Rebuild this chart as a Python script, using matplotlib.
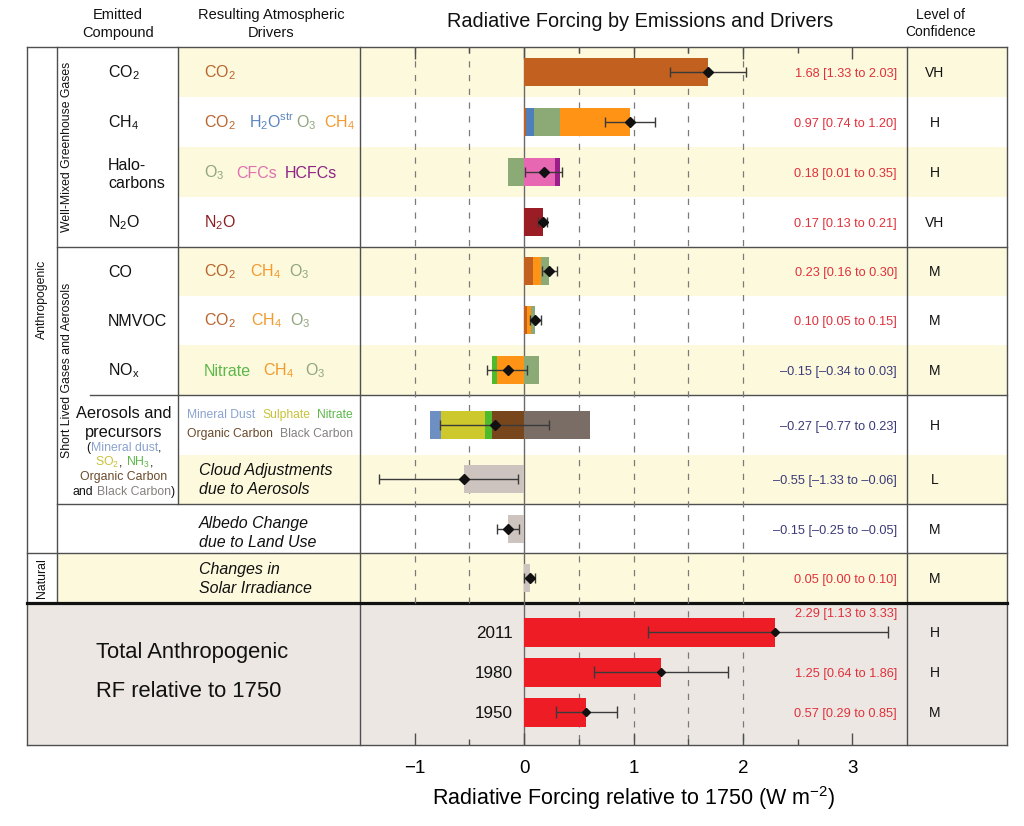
import matplotlib.pyplot as plt
import numpy as np

plt.rcParams['font.family'] = ['Liberation Sans', 'DejaVu Sans']
plt.rcParams['mathtext.fontset'] = 'custom'
plt.rcParams['mathtext.rm'] = 'Liberation Sans'
plt.rcParams['mathtext.it'] = 'Liberation Sans:italic'
plt.rcParams['mathtext.bf'] = 'Liberation Sans:bold'

# ---- values (W m-2) ----
row_names = ['CO2', 'CH4', 'Halocarbons', 'N2O', 'CO', 'NMVOC', 'NOx',
             'Aerosols', 'Cloud', 'Albedo', 'Solar']
best = [1.68, 0.97, 0.18, 0.17, 0.23, 0.10, -0.15, -0.27, -0.55, -0.15, 0.05]
low = [1.33, 0.74, 0.01, 0.13, 0.16, 0.05, -0.34, -0.77, -1.33, -0.25, 0.00]
high = [2.03, 1.20, 0.35, 0.21, 0.30, 0.15, 0.03, 0.23, -0.06, -0.05, 0.10]
confidence = ['VH', 'H', 'H', 'VH', 'M', 'M', 'M', 'H', 'L', 'M', 'M']

# stacked contributions of each resulting driver
co2_parts = [('CO2', 1.68)]
ch4_parts = [('CO2', 0.02), ('H2Ostr', 0.07), ('O3', 0.24), ('CH4', 0.64)]
halo_parts = [('O3', -0.15), ('CFCs', 0.28), ('HCFCs', 0.05)]
n2o_parts = [('N2O', 0.17)]
co_parts = [('CO2', 0.08), ('CH4', 0.07), ('O3', 0.08)]
nmvoc_parts = [('CO2', 0.03), ('CH4', 0.03), ('O3', 0.04)]
nox_parts = [('CH4', -0.25), ('Nitrate', -0.04), ('O3', 0.14)]
aerosol_parts = [('OC', -0.29), ('Nitrate', -0.07), ('Sulphate', -0.40),
                 ('Dust', -0.10), ('BC', 0.60)]
cloud_parts = [('Adjust', -0.55)]
albedo_parts = [('Adjust', -0.15)]
solar_parts = [('Adjust', 0.05)]
all_parts = [co2_parts, ch4_parts, halo_parts, n2o_parts, co_parts, nmvoc_parts,
             nox_parts, aerosol_parts, cloud_parts, albedo_parts, solar_parts]

years = ['2011', '1980', '1950']
total_best = [2.29, 1.25, 0.57]
total_low = [1.13, 0.64, 0.29]
total_high = [3.33, 1.86, 0.85]
total_conf = ['H', 'H', 'M']

bar_colors = {'CO2': '#C1601F', 'H2Ostr': '#4F7FBA', 'O3': '#8CAA76', 'CH4': '#FF9315',
              'CFCs': '#E767B3', 'HCFCs': '#9A1D8C', 'N2O': '#9A1C24',
              'Nitrate': '#4EBB2F', 'Dust': '#6E8FC2', 'Sulphate': '#CDC82C',
              'OC': '#77461D', 'BC': '#7A6D66', 'Adjust': '#CDC3BF'}
text_colors = {'CO2': '#B9652E', 'H2Ostr': '#5A85BC', 'O3': '#8FA67E', 'CH4': '#F29A2E',
               'CFCs': '#E070B0', 'HCFCs': '#8E2486', 'N2O': '#8A1E22',
               'Nitrate': '#5DB84A', 'Dust': '#8AA3CF', 'Sulphate': '#C9C23A',
               'OC': '#6A4A2A', 'BC': '#858080', 'k': '#111111'}

# ---- layout (pixel coordinates of the 1024x826 figure) ----
row_y = [72, 122, 172, 222, 271, 320, 370, 425, 479, 529, 578]
total_y = [632, 672, 712]
line_c = '#4f4f4f'

fig = plt.figure(figsize=(10.24, 8.26), dpi=100)
bg = fig.add_axes([0, 0, 1, 1], zorder=0)
bg.set_xlim(0, 1024)
bg.set_ylim(826, 0)
bg.axis('off')
renderer = fig.canvas.get_renderer()


def put(x, yc, s, size, color='#111111', ha='left', **kw):
    # place text so that its cap height is centred on yc
    return bg.text(x, yc + 0.5 * size, s, fontsize=size, color=color, ha=ha,
                   va='baseline', **kw)


def put_parts(x, yc, parts, size, center=False, **kw):
    texts, gaps = [], []
    for s, key in parts:
        n = len(s) - len(s.lstrip(' '))
        gaps.append(n * 0.28 * size * 100 / 72)
        texts.append(put(0, yc, s.lstrip(' '), size, color=text_colors[key], **kw))
    widths = [t.get_window_extent(renderer).width for t in texts]
    total = sum(widths) + sum(gaps)
    cur = x - total / 2 if center else x
    for t, w, g in zip(texts, widths, gaps):
        cur += g
        t.set_x(cur)
        cur += w


# backgrounds
for top, bot, x0 in [(47, 97, 178), (147, 197, 178), (247, 296, 178),
                     (345, 395, 178), (455, 504, 178), (553, 603, 57)]:
    bg.add_patch(plt.Rectangle((x0, top), 1007 - x0, bot - top, color='#FDF9DC', lw=0))
bg.add_patch(plt.Rectangle((27, 603), 980, 142, color='#ECE7E3', lw=0))

# table lines
for x, y0, y1 in [(27, 47, 745), (57, 47, 603), (178, 47, 504), (360, 47, 745),
                  (907, 47, 745), (1007, 47, 745)]:
    bg.plot([x, x], [y0, y1], color=line_c, lw=1.0, zorder=2)
for y, x0, x1 in [(47, 27, 1007), (247, 57, 1007), (395, 90, 1007),
                  (504, 57, 1007), (553, 27, 1007), (745, 27, 1007)]:
    bg.plot([x0, x1], [y, y], color=line_c, lw=1.0, zorder=2)
bg.plot([27, 1007], [603, 603], color='#111111', lw=2.3, zorder=3)

# headers
put(118, 14, 'Emitted', 10.5, ha='center')
put(118, 32, 'Compound', 10.5, ha='center')
put(271, 14, 'Resulting Atmospheric', 10.5, ha='center')
put(271, 32, 'Drivers', 10.5, ha='center')
put(640, 20, 'Radiative Forcing by Emissions and Drivers', 14.3, ha='center')
put(941, 14, 'Level of', 10, ha='center')
put(941, 31, 'Confidence', 10, ha='center')

# rotated group labels
for x, y, s in [(42, 299, 'Anthropogenic'), (67, 147, 'Well-Mixed Greenhouse Gases'),
                (67, 370, 'Short Lived Gases and Aerosols'), (42, 578, 'Natural')]:
    bg.text(x, y, s, rotation=90, fontsize=8.8, ha='center', va='center', color='#111111')

# emitted compounds
compound_labels = ['CO$_2$', 'CH$_4$', None, 'N$_2$O', 'CO', 'NMVOC', 'NO$_\\mathrm{x}$']
for lab, y in zip(compound_labels, row_y):
    if lab:
        put(108, y, lab, 11.5)
put(108, 164, 'Halo-', 11.5)
put(108, 182, 'carbons', 11.5)
put(124, 412, 'Aerosols and', 11.8, ha='center')
put(124, 431, 'precursors', 11.8, ha='center')
put_parts(124, 447, [('(', 'k'), ('Mineral dust', 'Dust'), (',', 'k')], 8.8, center=True)
put_parts(124, 462, [('SO$_2$', 'Sulphate'), (',', 'k'), (' NH$_3$', 'Nitrate'), (',', 'k')],
          8.8, center=True)
put_parts(124, 476, [('Organic Carbon', 'OC')], 8.8, center=True)
put_parts(124, 491, [('and', 'k'), (' Black Carbon', 'BC'), (')', 'k')], 8.8, center=True)

# resulting drivers
driver_labels = [
    [('CO$_2$', 'CO2', 204)],
    [('CO$_2$', 'CO2', 204), ('H$_2$O$^{\\mathrm{str}}$', 'H2Ostr', 249),
     ('O$_3$', 'O3', 296), ('CH$_4$', 'CH4', 324)],
    [('O$_3$', 'O3', 204), ('CFCs', 'CFCs', 236), ('HCFCs', 'HCFCs', 285)],
    [('N$_2$O', 'N2O', 204)],
    [('CO$_2$', 'CO2', 204), ('CH$_4$', 'CH4', 250), ('O$_3$', 'O3', 289)],
    [('CO$_2$', 'CO2', 204), ('CH$_4$', 'CH4', 251), ('O$_3$', 'O3', 290)],
    [('Nitrate', 'Nitrate', 204), ('CH$_4$', 'CH4', 263), ('O$_3$', 'O3', 305)],
]
for labs, y in zip(driver_labels, row_y):
    for s, key, x in labs:
        put(x, y, s, 11.5, color=text_colors[key])
put_parts(187, 414, [('Mineral Dust', 'Dust'), ('  Sulphate', 'Sulphate'),
                     ('  Nitrate', 'Nitrate')], 8.7)
put_parts(187, 433, [('Organic Carbon', 'OC'), ('  Black Carbon', 'BC')], 8.7)
for y, s in [(469, 'Cloud Adjustments'), (488, 'due to Aerosols'),
             (522, 'Albedo Change'), (541, 'due to Land Use'),
             (568, 'Changes in'), (587, 'Solar Irradiance')]:
    put(199, y, s, 11.5, style='italic')

# values and confidence
def fmt(b, l, h):
    return f'{b:.2f} [{l:.2f} to {h:.2f}]'.replace('-', '\u2013')


for b, l, h, c, y in zip(best, low, high, confidence, row_y):
    col = '#E0303A' if b > 0 else '#3A3A78'
    put(897, y, fmt(b, l, h), 9.2, color=col, ha='right')
    put(935, y, c, 10, ha='center')
for b, l, h, c, y, yt in zip(total_best, total_low, total_high, total_conf,
                             total_y, [612, 672, 712]):
    put(897, yt, fmt(b, l, h), 9.2, color='#E0303A', ha='right')
    put(935, y, c, 10, ha='center')

put(96, 650, 'Total Anthropogenic', 15.8)
put(96, 689, 'RF relative to 1750', 15.8)

# ---- forcing axes ----
ax = fig.add_axes([360 / 1024, 1 - 745 / 826, 547 / 1024, 698 / 826], zorder=1)
ax.set_facecolor('none')
ax.set_xlim(-1.5, 3.5)
ax.set_ylim(745, 47)
for sp in ax.spines.values():
    sp.set_visible(False)

for v in [-1, -0.5]:
    ax.plot([v, v], [47, 603], color='#7a7a7a', lw=0.9, dashes=(5, 6), zorder=1)
for v in [0.5, 1, 1.5, 2]:
    ax.plot([v, v], [47, 745], color='#7a7a7a', lw=0.9, dashes=(5, 6), zorder=1)
ax.plot([0, 0], [47, 745], color='#6a6a6a', lw=1.0, zorder=1)

for parts, y in zip(all_parts, row_y):
    pos, neg = 0.0, 0.0
    for key, v in parts:
        if v >= 0:
            ax.barh(y, v, left=pos, height=28, color=bar_colors[key], lw=0, zorder=2)
            pos += v
        else:
            ax.barh(y, v, left=neg, height=28, color=bar_colors[key], lw=0, zorder=2)
            neg += v

b = np.array(best)
ax.errorbar(b, row_y, xerr=[b - np.array(low), np.array(high) - b], fmt='none',
            ecolor='#3a3a3a', elinewidth=1.0, capsize=3.5, capthick=1.0, zorder=3)
ax.plot(b, row_y, 'D', color='#111111', ms=5, zorder=4)

tb = np.array(total_best)
ax.barh(total_y, tb, height=29, color='#EE1D25', lw=0, zorder=2)
ax.errorbar(tb, total_y, xerr=[tb - np.array(total_low), np.array(total_high) - tb],
            fmt='none', ecolor='#3a3a3a', elinewidth=1.0, capsize=4.3, capthick=1.0, zorder=3)
ax.plot(tb, total_y, 'D', color='#111111', ms=4.5, zorder=4)
for yr, y in zip(years, total_y):
    ax.text(-0.1, y + 6, yr, fontsize=12.3, ha='right', va='baseline', color='#111111')

ax.set_yticks([])
ax.set_xticks([-1, 0, 1, 2, 3])
ax.set_xticks(np.arange(-1, 3.01, 0.5), minor=True)
ax.tick_params(which='both', direction='in', top=True, bottom=True, color=line_c,
               labelsize=13.5, pad=11)
ax.tick_params(which='major', length=8.5, width=1)
ax.tick_params(which='minor', length=4.3, width=1)
ax.set_xlabel('Radiative Forcing relative to 1750 (W m$^{-2}$)', fontsize=15.5, labelpad=5)

fig.savefig('out.png', dpi=100)
